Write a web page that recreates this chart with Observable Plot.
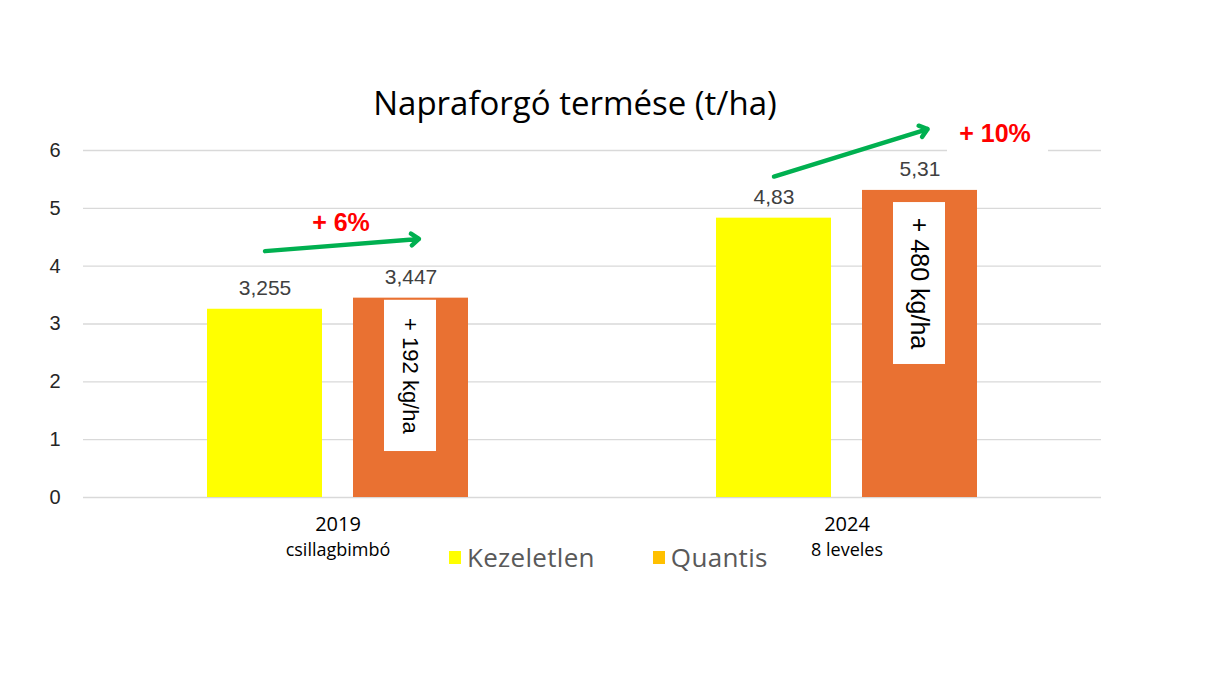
<!DOCTYPE html>
<html>
<head>
<meta charset="utf-8">
<script src="https://cdn.jsdelivr.net/npm/d3@7"></script>
<script src="https://cdn.jsdelivr.net/npm/@observablehq/plot@0.6"></script>
<style>
  html, body { margin: 0; padding: 0; background: #fff; }
  #wrap { position: relative; width: 1216px; height: 684px; overflow: hidden; }
  #title { position: absolute; left: 0; width: 1150px; top: 80px; text-align: center;
           font-family: "Open Sans", sans-serif; font-size: 33px; color: #000; }
  #legend { position: absolute; top: 539px; left: 449px; display: flex; align-items: center;
            font-family: "Open Sans", sans-serif; font-size: 26px; color: #595959; letter-spacing: 0.3px; }
  #legend .item { display: flex; align-items: center; margin-right: 58px; }
  #legend .sw { width: 12px; height: 13px; margin-right: 6px; }
  #chart { position: absolute; left: 0; top: 0; }
</style>
</head>
<body>
<div id="wrap">
  <div id="chart"></div>
  <div id="title"></div>
  <div id="legend"></div>
</div>
<script>
// ---- data ----
const titleText = "Napraforgó termése (t/ha)";
const years = ["2019", "2024"];
const stages = ["csillagbimbó", "8 leveles"];
const series = ["Kezeletlen", "Quantis"];
const kezeletlen = [3.255, 4.83];
const quantis = [3.447, 5.31];
const barColors = ["#FFFF00", "#E97132"];
const legendColors = ["#FFFF00", "#FFC000"];
const yTicks = [0, 1, 2, 3, 4, 5, 6];
// annotations
const gainLabels = ["+ 192 kg/ha", "+ 480 kg/ha"];
const gainBoxTop = [3.41, 5.10];
const gainBoxBottom = [0.795, 2.30];
const gainFont = [22, 25];
const pctLabels = ["+ 6%", "+ 10%"];
const pctY = [4.74, 6.29];
const arrowFrom = [4.26, 5.55];
const arrowTo = [4.46, 6.33];

// ---- tables ----
const rows = years.flatMap((yr, i) => [
  {year: yr, series: series[0], value: kezeletlen[i]},
  {year: yr, series: series[1], value: quantis[i]}
]);
const annot = years.map((yr, i) => ({
  year: yr, stage: stages[i], gain: gainLabels[i], top: gainBoxTop[i], bottom: gainBoxBottom[i],
  mid: (gainBoxTop[i] + gainBoxBottom[i]) / 2, font: gainFont[i],
  pct: pctLabels[i], pctY: pctY[i], a1: arrowFrom[i], a2: arrowTo[i]
}));
const fmt = v => String(v).replace(".", ",");

document.getElementById("title").textContent = titleText;
const leg = document.getElementById("legend");
series.forEach((s, i) => {
  const it = document.createElement("div"); it.className = "item";
  const sw = document.createElement("div"); sw.className = "sw"; sw.style.background = legendColors[i];
  const tx = document.createElement("span"); tx.textContent = s;
  it.appendChild(sw); it.appendChild(tx); leg.appendChild(it);
});

const chart = Plot.plot({
  width: 1216,
  height: 684,
  marginTop: 150,
  marginBottom: 187,
  marginLeft: 83,
  marginRight: 115,
  style: {fontFamily: "'Liberation Sans', Arial, sans-serif", background: "transparent"},
  fx: {domain: years, padding: 0, label: null},
  x: {domain: series, paddingInner: 0.212, paddingOuter: 0.849, axis: null},
  y: {domain: [0, 6], label: null},
  color: {domain: series, range: barColors},
  marks: [
    Plot.gridY(yTicks, {stroke: "#d9d9d9", strokeOpacity: 1, strokeWidth: 1.3}),
    Plot.axisY(yTicks, {tickSize: 0, tickPadding: 23, fontSize: 20, fill: "#262626", label: null,
      tickFormat: d => String(d)}),
    Plot.axisFx({
      anchor: "bottom", tickSize: 0, tickPadding: 19, fontSize: 20, fill: "#000",
      fontFamily: "'Open Sans', sans-serif", label: null
    }),
    Plot.text(annot, {fx: "year", text: "stage", frameAnchor: "bottom", dy: 58, fontSize: 18,
      fill: "#000", fontFamily: "'Open Sans', sans-serif"}),
    Plot.barY(rows, {fx: "year", x: "series", y: "value", fill: "series"}),
    Plot.text(rows, {fx: "year", x: "series", y: "value", text: d => fmt(d.value),
      dy: -21, fontSize: 21, fill: "#404040"}),
    // white boxes with gains
    Plot.barY(annot, {fx: "year", x: () => series[1], y1: "bottom", y2: "top", fill: "#fff",
      insetLeft: 31, insetRight: 32}),
    Plot.text(annot, {fx: "year", x: () => series[1], y: "mid", text: "gain", rotate: 90,
      fontSize: "font", fill: "#000", dx: -1}),
    // green arrows
    Plot.arrow(annot, {fx: "year", x1: () => series[0], x2: () => series[1], y1: "a1", y2: "a2",
      stroke: "#00B050", strokeWidth: 4.5, headLength: 3.2, headAngle: 75, insetEnd: -8}),
    // white box behind +10%
    Plot.barY(annot.filter(d => d.year === years[1]), {fx: "year", x: () => series[1],
      y1: d => d.pctY - 0.34, y2: d => d.pctY + 0.26, fill: "#fff", dx: 75, insetLeft: 10, insetRight: 4}),
    Plot.text(annot.filter(d => d.year === years[0]), {fx: "year", y: "pctY", text: "pct",
      fontSize: 25, fontWeight: "bold", fill: "#FF0000", dx: 3}),
    Plot.text(annot.filter(d => d.year === years[1]), {fx: "year", x: () => series[1], y: "pctY", text: "pct",
      fontSize: 25, fontWeight: "bold", fill: "#FF0000", dx: 75})
  ]
});
document.getElementById("chart").appendChild(chart);
</script>
</body>
</html>
